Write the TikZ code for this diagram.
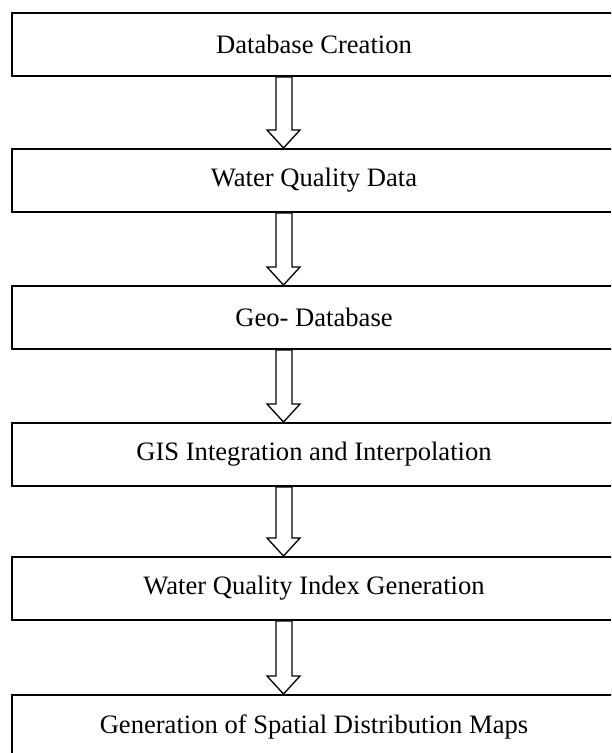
\documentclass[tikz,border=0pt]{standalone}
\usepackage{fontspec}
\setmainfont{Liberation Serif}
\usetikzlibrary{calc}
\tikzset{
  flowbox/.style={draw=black, line width=2pt, fill=white, anchor=north west,
    minimum width=604pt, minimum height=63pt, inner sep=0pt,
    font=\fontsize{26.6}{30}\selectfont},
  flowarr/.style={draw=black, line width=1.3pt, line join=miter, fill=white}
}
\newcommand{\flowarrow}[2]{%
  \draw[flowarr] ($(#1.south west)+(265,0)$) -- ($(#2.north west)+(265,-18)$)
    -- ($(#2.north west)+(256,-18)$) -- ($(#2.north west)+(272.5,0)$)
    -- ($(#2.north west)+(289,-18)$) -- ($(#2.north west)+(281,-18)$)
    -- ($(#1.south west)+(281,0)$) -- cycle;}
\begin{document}
\begin{tikzpicture}[x=1pt,y=-1pt]
\path[use as bounding box, clip] (0,0) rectangle (611,753);
\node[flowbox] (b1) at (11,12)  {Database Creation};
\node[flowbox] (b2) at (11,148) {Water Quality Data};
\node[flowbox] (b3) at (11,285) {Geo- Database};
\node[flowbox] (b4) at (11,422) {GIS Integration and Interpolation};
\node[flowbox] (b5) at (11,556) {Water Quality Index Generation};
\node[flowbox] (b6) at (11,694) {Generation of Spatial Distribution Maps};
\flowarrow{b1}{b2}
\flowarrow{b2}{b3}
\flowarrow{b3}{b4}
\flowarrow{b4}{b5}
\flowarrow{b5}{b6}
\end{tikzpicture}
\end{document}
